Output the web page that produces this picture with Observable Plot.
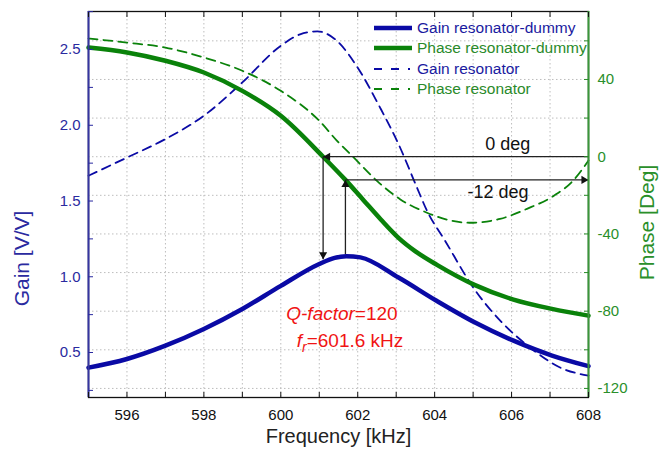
<!DOCTYPE html>
<html><head><meta charset="utf-8">
<script src="https://cdn.jsdelivr.net/npm/d3@7"></script>
<script src="https://cdn.jsdelivr.net/npm/@observablehq/plot@0.6"></script>
<style>
body{margin:0;background:#fff;}
#wrap{position:relative;width:666px;height:459px;font-family:"Liberation Sans",Arial,sans-serif;}
#legend{position:absolute;left:374px;top:18px;font-size:15.5px;}
#legend .row{display:flex;align-items:center;height:20.3px;white-space:nowrap}
#legend svg{margin-right:5px}
</style></head><body><div id="wrap"></div>
<script>
// ---- data ----
const freqGainDummy = [595,596,597,598,599,600,601,601.4,601.7,602.07,603.06,604.06,605.05,606.05,607.05,608];
const gainDummy     = [0.40,0.457,0.545,0.655,0.787,0.94,1.084,1.125,1.136,1.128,0.995,0.84,0.698,0.578,0.48,0.41];

const freqPhaseDummy = [595,596,597,598,599,600,601.1,601.68,602.15,602.6,603.06,603.5,604.06,605.05,606.05,607.05,608];
const phaseDummy     = [56.5,54,49.7,43.6,34.1,21.2,0,-12,-22.5,-32.5,-42,-49,-56,-66.5,-74,-78.8,-82.3];

const freqGainRes = [595,596,597,598,599,600,600.5,600.95,601.4,602.0,602.58,603.06,603.54,603.8,604.27,605.0,605.79,606.48,607.26,608];
const gainRes     = [1.667,1.787,1.909,2.063,2.283,2.525,2.6,2.62,2.57,2.38,2.117,1.876,1.589,1.436,1.238,0.93,0.688,0.533,0.401,0.347];

const freqPhaseRes = [595,596,597,598,599,600,601,601.45,601.9,602.5,603.1,603.8,604.4,604.9,605.7,606.4,607.1,607.6,608];
const phaseRes     = [61.2,59.1,56.5,51.4,44.5,34.1,18.6,8.5,-0.5,-12.5,-22,-29,-33,-34.2,-32.2,-27,-20.2,-12.4,-2];

const xDomain = [595, 608];
const gainDomain = [0.203, 2.751];
const phaseDomain = [-124.7, 75.2];

const xTicks = [595,596,597,598,599,600,601,602,603,604,605,606,607,608];
const xLabels = [596,598,600,602,604,606,608];
const gainTicks = [0.25,0.5,0.75,1.0,1.25,1.5,1.75,2.0,2.25,2.5,2.75];
const gainLabels = [0.5,1.0,1.5,2.0,2.5];
const phaseTicks = [-120,-100,-80,-60,-40,-20,0,20,40,60];
const phaseLabels = [-120,-80,-40,0,40];

// annotations
const resFreq0 = 601.1;      // where solid phase crosses 0 deg
const resFreq12 = 601.68;    // where solid phase = -12 deg
const annPhases = [0, -12];
const annGainTips = [1.115, 1.15];
const annTexts = ["0 deg", "-12 deg"];
const annTextPos = [[605.9, 6.7], [605.65, -18.6]];
const qText = ["Q-factor=120", "fr=601.6 kHz"];
const qTextPos = [[601.59, -81.2], [601.8, -95.2]];

const legendItems = [
  {label: "Gain resonator-dummy", color: "#0a0aa5", dash: null, w: 4.5, text: "#1a1aa0"},
  {label: "Phase resonator-dummy", color: "#0a820a", dash: null, w: 4.5, text: "#2a8a2a"},
  {label: "Gain resonator", color: "#0a0aa5", dash: "8,9,8,9,2,10", w: 1.8, text: "#1a1aa0"},
  {label: "Phase resonator", color: "#0a820a", dash: "8,9,8,9,2,10", w: 1.8, text: "#2a8a2a"}
];

// ---- helpers ----
const g2p = g => phaseDomain[0] + (g - gainDomain[0]) / (gainDomain[1] - gainDomain[0]) * (phaseDomain[1] - phaseDomain[0]);

const gd = freqGainDummy.map((f, i) => ({f, v: g2p(gainDummy[i])}));
const pd = freqPhaseDummy.map((f, i) => ({f, v: phaseDummy[i]}));
const gr = freqGainRes.map((f, i) => ({f, v: g2p(gainRes[i])}));
const pr = freqPhaseRes.map((f, i) => ({f, v: phaseRes[i]}));

const BLUE = "#0a0aa5", GREEN = "#0a820a";
const gainTickP = gainTicks.map(g2p);
const gainLabelMap = new Map(gainTicks.map(g => [g2p(g), gainLabels.includes(g) ? g.toFixed(1) : ""]));

const hLinks = [
  {x1: xDomain[1], x2: resFreq0, y: annPhases[0]},
  {x1: resFreq12, x2: xDomain[1], y: annPhases[1]}
];
const vLinks = [
  {x: resFreq0, y1: annPhases[0], y2: g2p(annGainTips[0])},
  {x: resFreq12, y1: g2p(annGainTips[1]), y2: annPhases[1]}
];
const head = (x, y, rot, dx, dy) => Plot.dot([{x, y}], {x: "x", y: "y", symbol: "triangle", r: 3, fill: "#111", stroke: "none", rotate: rot, dx, dy});

const chart = Plot.plot({
  width: 666, height: 459,
  marginTop: 11, marginBottom: 62, marginLeft: 88, marginRight: 78,
  style: {fontFamily: "Liberation Sans, Arial, sans-serif", fontSize: "15px", background: "#fff"},
  x: {domain: xDomain, axis: null},
  y: {domain: phaseDomain, axis: null},
  marks: [
    Plot.ruleX(xTicks.slice(1, -1), {stroke: "#bdbdbd", strokeDasharray: "1.5,2.5", strokeWidth: 1}),
    Plot.ruleY(phaseTicks, {stroke: "#bdbdbd", strokeDasharray: "1.5,2.5", strokeWidth: 1}),
    Plot.line(pr, {x: "f", y: "v", stroke: GREEN, strokeWidth: 1.8, strokeDasharray: "9,6", curve: "monotone-x"}),
    Plot.line(gr, {x: "f", y: "v", stroke: BLUE, strokeWidth: 1.8, strokeDasharray: "9,6", curve: "monotone-x"}),
    Plot.line(pd, {x: "f", y: "v", stroke: GREEN, strokeWidth: 4.5, curve: "monotone-x"}),
    Plot.line(gd, {x: "f", y: "v", stroke: BLUE, strokeWidth: 4.5, curve: "monotone-x"}),
    // annotation arrows
    Plot.link(hLinks, {x1: "x1", x2: "x2", y1: "y", y2: "y", stroke: "#222", strokeWidth: 1.3}),
    Plot.link(vLinks, {x1: "x", x2: "x", y1: "y1", y2: "y2", stroke: "#222", strokeWidth: 1.3}),
    head(resFreq0, annPhases[0], -90, 4.7, 0),
    head(resFreq0, g2p(annGainTips[0]), 180, 0, -4.7),
    head(resFreq12, annPhases[1], 0, 0, 4.7),
    head(xDomain[1], annPhases[1], 90, -4.7, 0),
    Plot.text(annTexts.map((t, i) => ({t, x: annTextPos[i][0], y: annTextPos[i][1]})), {x: "x", y: "y", text: "t", fontSize: 18, fill: "#111"}),
    Plot.text(qText.map((t, i) => ({t, x: qTextPos[i][0], y: qTextPos[i][1]})), {x: "x", y: "y", text: "t", fontSize: 19, fill: "#f01414"}),
    // frame
    Plot.frame({stroke: "#111", strokeWidth: 1.3}),
    Plot.ruleX([xDomain[0]], {stroke: "#3535a0", strokeWidth: 2}),
    Plot.ruleX([xDomain[1]], {stroke: "#3a963a", strokeWidth: 2}),
    // axes
    Plot.axisX({anchor: "bottom", ticks: xTicks, tickSize: -5, tickPadding: 16.5, tickFormat: d => xLabels.includes(d) ? String(d) : "", fontSize: 15, color: "#111", label: null}),
    Plot.axisX({anchor: "top", ticks: xTicks, tickSize: -5, tickFormat: () => "", color: "#111", label: null}),
    Plot.axisY({anchor: "left", ticks: gainTickP, tickSize: -5, tickPadding: 13, tickFormat: p => gainLabelMap.get(p) ?? "", fontSize: 15, color: "#2a2aa0", label: null}),
    Plot.axisY({anchor: "right", ticks: phaseTicks, tickSize: -5, tickPadding: 14, tickFormat: p => phaseLabels.includes(p) ? String(p) : "", fontSize: 15, color: "#2a8f2a", label: null}),
    // axis titles
    Plot.text(["Gain [V/V]"], {frameAnchor: "left", textAnchor: "middle", rotate: -90, dx: -66, dy: 54, fontSize: 21, fill: "#2a2aa0"}),
    Plot.text(["Phase [Deg]"], {frameAnchor: "right", textAnchor: "middle", rotate: -90, dx: 59, dy: 18, fontSize: 21, fill: "#2a8f2a"}),
    Plot.text(["Frequency [kHz]"], {frameAnchor: "bottom", dx: 0, dy: 45, fontSize: 20, fill: "#222"})
  ]
});

// style Q-factor texts with italics / subscript
chart.querySelectorAll("text").forEach(t => {
  if (t.textContent === qText[0]) {
    t.innerHTML = '<tspan font-style="italic">Q-factor</tspan><tspan>=120</tspan>';
  } else if (t.textContent === qText[1]) {
    t.innerHTML = '<tspan font-style="italic">f</tspan><tspan font-style="italic" font-size="14" dy="5">r</tspan><tspan dy="-5">=601.6 kHz</tspan>';
  }
});

const wrap = document.getElementById("wrap");
wrap.appendChild(chart);

// legend
const leg = document.createElement("div");
leg.id = "legend";
legendItems.forEach(it => {
  const row = document.createElement("div");
  row.className = "row";
  row.innerHTML = `<svg width="38" height="10"><line x1="0" x2="38" y1="5" y2="5" stroke="${it.color}" stroke-width="${it.w}" ${it.dash ? `stroke-dasharray="${it.dash}"` : ""}/></svg><span style="color:${it.text}">${it.label}</span>`;
  leg.appendChild(row);
});
wrap.appendChild(leg);
</script>
</body></html>
